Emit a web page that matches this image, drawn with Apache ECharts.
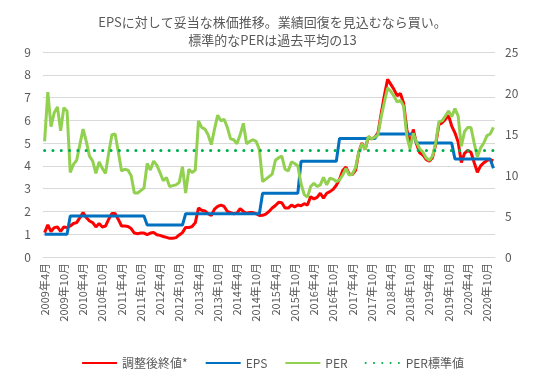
<!DOCTYPE html>
<html><head><meta charset="utf-8">
<script src="https://cdn.jsdelivr.net/npm/echarts@6/dist/echarts.min.js"></script>
<style>html,body{margin:0;padding:0;background:#fff;}#c{width:545px;height:386px;}</style>
</head><body><div id="c"></div>
<script>
// Monthly categories: 2009年4月 .. 2020年12月 (141 months)
const categories = [];
for (let y = 2009, m = 4; y < 2021; ) { categories.push(y + '年' + m + '月'); m++; if (m > 12) { m = 1; y++; } }

// 調整後終値* (left axis)
const adjClose = [
 1.07,1.41,1.12,1.29,1.32,1.12,1.32,1.29,1.36,1.47,1.51,1.73,1.95,1.73,1.58,1.51,1.32,1.47,1.32,1.36,
 1.66,1.91,1.91,1.65,1.36,1.36,1.34,1.25,1.05,1.02,1.05,1.05,0.98,1.05,1.08,0.98,0.95,0.90,0.86,0.82,
 0.82,0.85,0.97,1.07,1.30,1.29,1.34,1.50,2.15,2.05,2.02,1.90,1.82,2.10,2.22,2.28,2.22,2.00,1.95,1.90,
 1.93,2.12,2.00,1.92,1.95,1.95,1.90,1.82,1.83,1.88,2.00,2.15,2.26,2.40,2.38,2.15,2.15,2.28,2.20,2.28,
 2.25,2.34,2.28,2.65,2.55,2.62,2.80,2.58,2.80,2.87,2.97,3.15,3.41,3.80,3.95,3.65,3.62,3.80,4.60,5.00,
 4.72,5.28,5.18,5.25,5.45,6.30,7.10,7.80,7.58,7.35,7.08,7.18,6.75,5.60,4.90,5.60,4.97,4.58,4.48,4.28,
 4.21,4.36,4.94,5.82,5.89,6.04,6.22,5.75,5.45,5.05,4.15,4.55,4.68,4.60,4.15,3.72,4.00,4.14,4.24,4.28,
 4.22];

// EPS (left axis)
const eps = [
 1.0,1.0,1.0,1.0,1.0,1.0,1.0,1.0,
 1.8,1.8,1.8,1.8,1.8,1.8,1.8,1.8,1.8,1.8,1.8,1.8,1.8,1.8,1.8,1.8,1.8,1.8,1.8,1.8,1.8,1.8,1.8,1.8,
 1.4,1.4,1.4,1.4,1.4,1.4,1.4,1.4,1.4,1.4,1.4,1.4,
 1.9,1.9,1.9,1.9,1.9,1.9,1.9,1.9,1.9,1.9,1.9,1.9,1.9,1.9,1.9,1.9,1.9,1.9,1.9,1.9,1.9,1.9,1.9,1.9,
 2.8,2.8,2.8,2.8,2.8,2.8,2.8,2.8,2.8,2.8,2.8,2.8,
 4.2,4.2,4.2,4.2,4.2,4.2,4.2,4.2,4.2,4.2,4.2,4.2,
 5.2,5.2,5.2,5.2,5.2,5.2,5.2,5.2,5.2,5.2,5.2,5.2,
 5.4,5.4,5.4,5.4,5.4,5.4,5.4,5.4,5.4,5.4,5.4,5.4,
 5.0,5.0,5.0,5.0,5.0,5.0,5.0,5.0,5.0,5.0,5.0,5.0,
 4.3,4.3,4.3,4.3,4.3,4.3,4.3,4.3,4.3,4.3,4.3,4.3,
 3.9];

// PER (right axis)
const per = [
 14.1,20.1,15.9,17.6,18.3,15.4,18.2,17.8,10.3,11.3,11.8,13.7,15.6,14.1,12.3,11.7,10.2,11.6,10.8,10.2,
 12.7,14.9,15.0,12.8,10.5,10.7,10.6,9.9,7.8,7.8,8.1,8.4,11.4,10.6,11.7,11.2,10.3,9.3,9.7,8.6,
 8.7,8.8,9.1,11.0,7.8,10.7,10.3,10.6,16.6,15.8,15.6,14.9,13.7,15.6,17.3,16.6,16.8,15.8,14.4,14.3,
 13.8,14.9,16.3,13.8,14.1,14.3,14.1,13.1,9.2,9.5,9.8,10.1,11.8,12.1,12.3,10.7,10.5,11.6,11.4,11.1,
 8.9,7.6,7.3,8.6,9.0,8.6,8.8,9.7,8.8,9.6,9.5,9.2,9.4,10.0,10.8,10.0,10.1,10.9,12.8,13.8,
 13.1,14.7,14.4,14.6,14.9,17.1,18.9,20.6,20.2,19.6,18.9,19.1,18.4,14.7,13.2,15.1,14.0,13.2,12.8,12.1,
 11.8,12.3,13.9,16.5,16.6,17.2,17.8,17.1,18.1,17.2,13.5,15.3,15.8,15.8,13.9,12.2,13.3,13.9,14.8,15.0,
 15.8];

const perStandard = 13;

const leftTicks = { min: 0, max: 9, interval: 1 };
const rightTicks = { min: 0, max: 25, interval: 5 };

const txt = '#595959';
const font = '"Noto Sans CJK JP", "Noto Sans", sans-serif';
const chart = echarts.init(document.getElementById('c'), null, { renderer: 'canvas' });
chart.setOption({
  animation: false,
  backgroundColor: '#fff',
  textStyle: { fontFamily: font },
  title: {
    text: 'EPSに対して妥当な株価推移。業績回復を見込むなら買い。\n標準的なPERは過去平均の13',
    left: 'center', top: 8,
    textStyle: { fontSize: 13, fontWeight: 'normal', color: txt, lineHeight: 18, fontFamily: font }
  },
  legend: {
    bottom: 12, left: 'center', itemWidth: 35, itemHeight: 10, itemGap: 17,
    itemStyle: { opacity: 0 },
    textStyle: { fontSize: 12, color: txt, fontFamily: font },
    data: ['調整後終値*', 'EPS', 'PER', 'PER標準値']
  },
  grid: { left: 43, right: 50, top: 52, bottom: 129 },
  xAxis: {
    type: 'category', data: categories, boundaryGap: true,
    axisLine: { lineStyle: { color: '#d9d9d9', width: 1 } },
    axisTick: { interval: 5, length: 5, lineStyle: { color: '#d9d9d9' } },
    axisLabel: { interval: 5, rotate: 90, fontSize: 11, color: txt, margin: 6, fontFamily: font }
  },
  yAxis: [
    { type: 'value', min: leftTicks.min, max: leftTicks.max, interval: leftTicks.interval,
      axisLine: { show: false }, axisTick: { show: false },
      axisLabel: { fontSize: 12, color: txt, margin: 12 },
      splitLine: { lineStyle: { color: '#d9d9d9', width: 1 } } },
    { type: 'value', min: rightTicks.min, max: rightTicks.max, interval: rightTicks.interval,
      axisLine: { show: false }, axisTick: { show: false },
      axisLabel: { fontSize: 12, color: txt, margin: 10 },
      splitLine: { show: false } }
  ],
  series: [
    { name: '調整後終値*', type: 'line', yAxisIndex: 0, data: adjClose, symbol: 'none',
      lineStyle: { color: '#FF0000', width: 3 }, itemStyle: { color: '#FF0000' } },
    { name: 'EPS', type: 'line', yAxisIndex: 0, data: eps, symbol: 'none',
      lineStyle: { color: '#0070C0', width: 3 }, itemStyle: { color: '#0070C0' } },
    { name: 'PER', type: 'line', yAxisIndex: 1, data: per, symbol: 'none',
      lineStyle: { color: '#92D050', width: 3 }, itemStyle: { color: '#92D050' } },
    { name: 'PER標準値', type: 'line', yAxisIndex: 1, data: categories.map(() => perStandard), symbol: 'none',
      lineStyle: { color: '#00B050', width: 3, type: [0.1, 8.2], cap: 'round' }, itemStyle: { color: '#00B050' } }
  ]
});
</script></body></html>
